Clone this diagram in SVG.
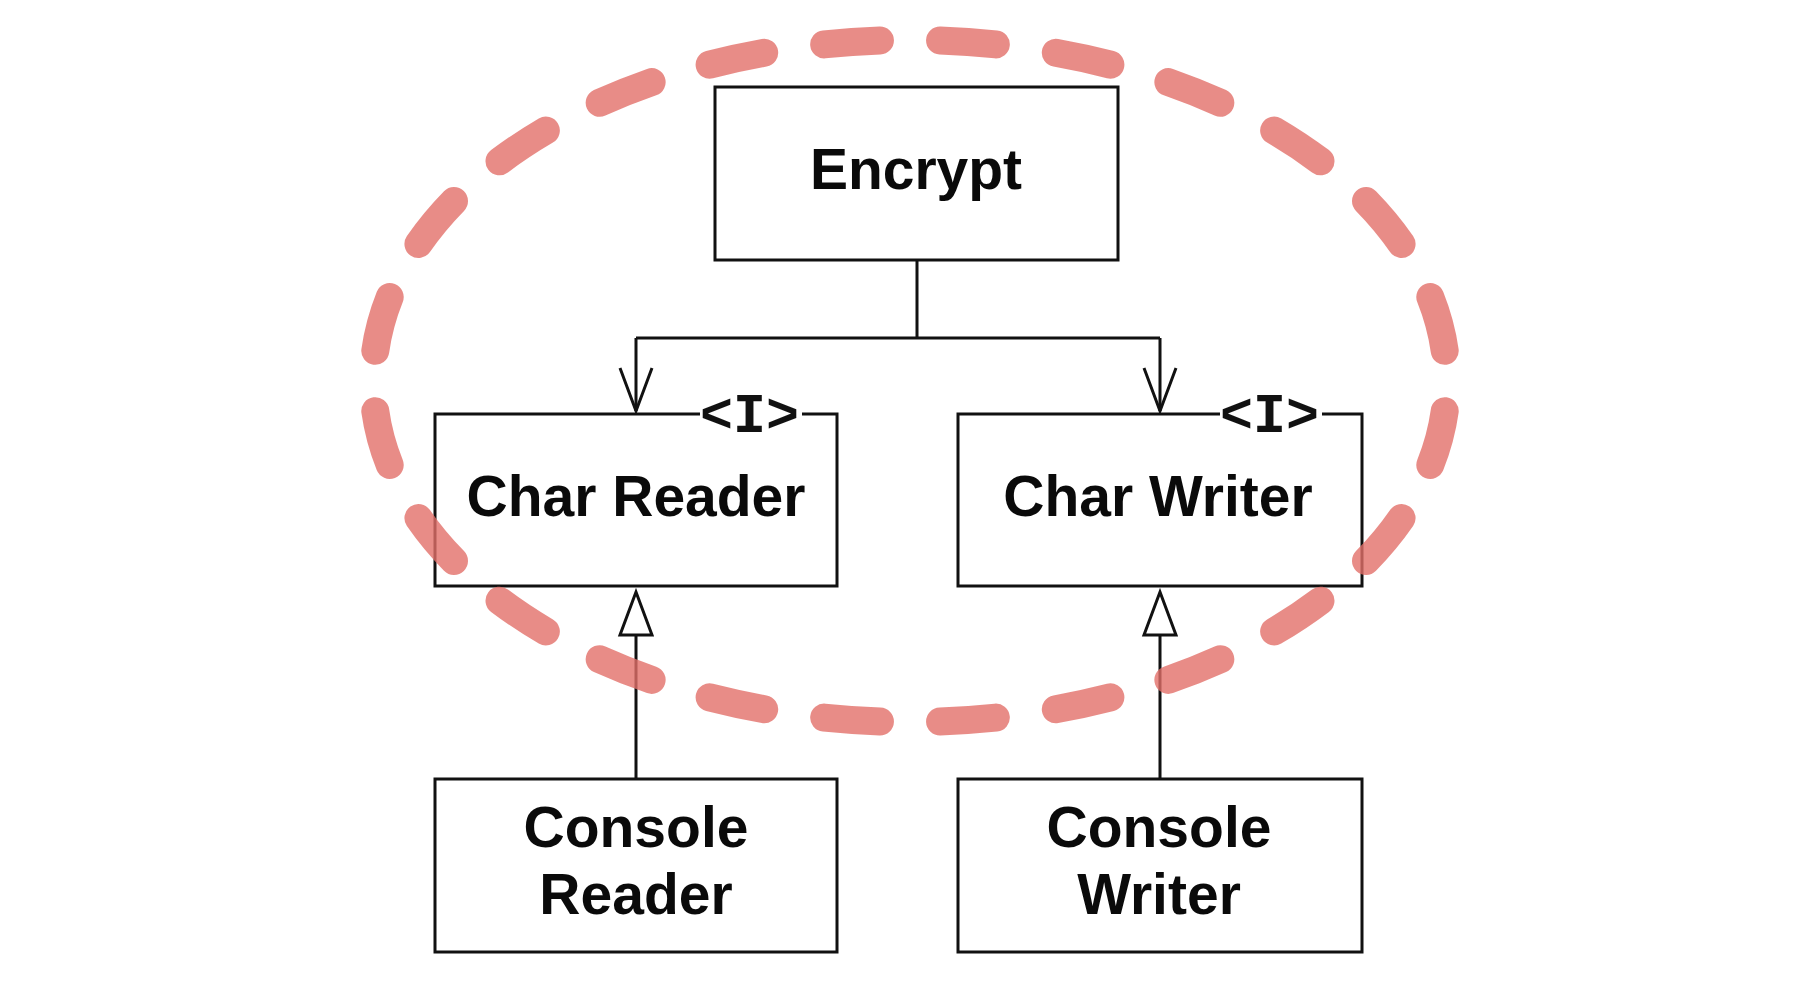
<svg xmlns="http://www.w3.org/2000/svg" width="1814" height="1008" viewBox="0 0 1814 1008">
  <defs>
    <style>
      .box { fill: #ffffff; stroke: #111111; stroke-width: 3; }
      .lbl { font-family: "Liberation Sans", Arial, Helvetica, sans-serif; font-weight: bold; font-size: 57px; fill: #0a0a0a; text-anchor: middle; }
      .iface { font-family: "Liberation Mono", "Courier New", monospace; font-weight: bold; font-size: 55px; fill: #111111; }
      .line { fill: none; stroke: #111111; stroke-width: 3; }
      .knock { fill: #ffffff; stroke: none; }
      .open { fill: none; stroke: #111111; stroke-width: 3; stroke-linejoin: miter; }
      .tri { fill: #ffffff; stroke: #111111; stroke-width: 3; stroke-linejoin: miter; }
    </style>
  </defs>
  <rect width="1814" height="1008" fill="#ffffff"/>

  <g id="connectors">
    <path class="line" d="M917 260 V338 M636 338 H1160 M636 338 V411 M1160 338 V411"/>
    <path class="open" d="M620 368 L636 411 L652 368"/>
    <path class="open" d="M1144 368 L1160 411 L1176 368"/>
    <path class="line" d="M636 635 V779 M1160 635 V779"/>
    <path class="tri" d="M636 592 L652 635 L620 635 Z"/>
    <path class="tri" d="M1160 592 L1176 635 L1144 635 Z"/>
  </g>

  <g id="encrypt">
    <rect class="box" x="715" y="87" width="403" height="173"/>
    <text class="lbl" x="916" y="189">Encrypt</text>
  </g>

  <g id="char-reader">
    <rect class="box" x="435" y="414" width="402" height="172"/>
    <rect class="knock" x="700" y="408" width="102" height="12"/>
    <text class="iface" x="700" y="432">&lt;I&gt;</text>
    <text class="lbl" x="636" y="516">Char Reader</text>
  </g>

  <g id="char-writer">
    <rect class="box" x="958" y="414" width="404" height="172"/>
    <rect class="knock" x="1220" y="408" width="102" height="12"/>
    <text class="iface" x="1220" y="432">&lt;I&gt;</text>
    <text class="lbl" x="1158" y="516">Char Writer</text>
  </g>

  <g id="console-reader">
    <rect class="box" x="435" y="779" width="402" height="173"/>
    <text class="lbl" x="636" y="847">Console</text>
    <text class="lbl" x="636" y="914">Reader</text>
  </g>

  <g id="console-writer">
    <rect class="box" x="958" y="779" width="404" height="173"/>
    <text class="lbl" x="1159" y="847">Console</text>
    <text class="lbl" x="1159" y="914">Writer</text>
  </g>

  <g id="boundary">
    <path d="M910 722 A537 341 0 0 1 910 40 A537 341 0 0 1 910 722 Z" pathLength="2400" fill="none" stroke="#e26f69" stroke-opacity="0.8" stroke-width="28" stroke-linecap="round" stroke-dasharray="48 52" stroke-dashoffset="74"/>
  </g>
</svg>
